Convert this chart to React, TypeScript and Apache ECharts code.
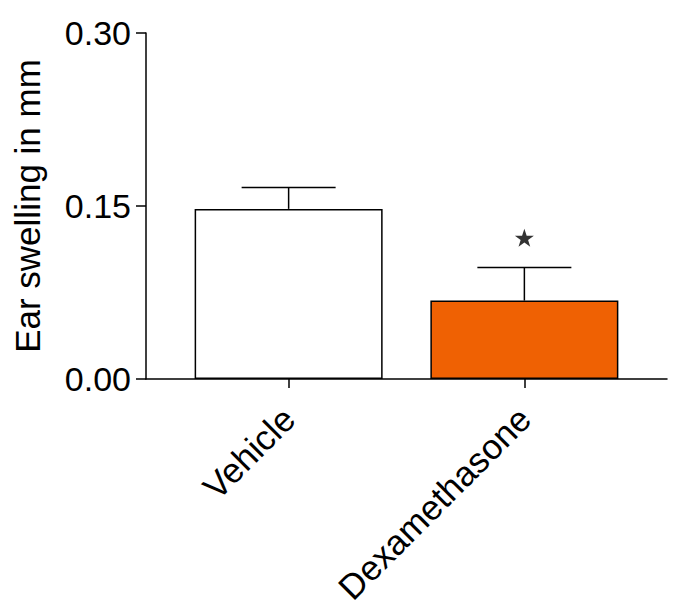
import React, { useEffect, useRef } from "react";
import * as echarts from "echarts";

const categories = ["Vehicle", "Dexamethasone"];
const means = [0.1475, 0.068];
const sems = [0.0185, 0.0286];
const starValues = [null, 0.1224];
const yTicks = [0, 0.15, 0.3];
const barColors = ["#ffffff", "#EF6103"];

const FONT = "Liberation Sans, Arial, sans-serif";

export default function App() {
  const ref = useRef<HTMLDivElement>(null);
  useEffect(() => {
    document.body.style.margin = "0";
    if (!ref.current) return;
    const chart = echarts.init(ref.current, null, { renderer: "svg" });
    const xIdx = categories.map((_, i) => i);
    chart.setOption({
      animation: false,
      backgroundColor: "#ffffff",
      grid: { left: 146, right: 7, top: 33, bottom: 237, containLabel: false },
      xAxis: {
        type: "value",
        min: -0.605,
        max: 1.605,
        splitLine: { show: false },
        axisLine: { show: true, onZero: false, lineStyle: { color: "#000", width: 1.5 } },
        axisTick: { show: true, customValues: xIdx, length: 9, lineStyle: { color: "#000", width: 1.5 } },
        axisLabel: {
          customValues: xIdx,
          rotate: 45,
          margin: 34,
          color: "#000",
          fontSize: 35,
          fontFamily: FONT,
          formatter: (v: number) => categories[Math.round(v)] ?? "",
        },
      },
      yAxis: {
        type: "value",
        min: yTicks[0],
        max: yTicks[yTicks.length - 1],
        interval: yTicks[1] - yTicks[0],
        name: "Ear swelling in mm",
        nameLocation: "middle",
        nameGap: 101,
        nameRotate: 90,
        nameTextStyle: { color: "#000", fontSize: 35, fontFamily: FONT },
        splitLine: { show: false },
        axisLine: { show: true, onZero: false, lineStyle: { color: "#000", width: 1.5 } },
        axisTick: { show: true, length: 10, lineStyle: { color: "#000", width: 1.5 } },
        axisLabel: {
          color: "#000",
          fontSize: 34,
          fontFamily: FONT,
          margin: 15,
          formatter: (v: number) => v.toFixed(2),
        },
      },
      series: [
        {
          type: "bar",
          barWidth: 188,
          data: means.map((m, i) => ({
            value: [i, m],
            itemStyle: { color: barColors[i], borderColor: "#000", borderWidth: 1.5 },
          })),
          z: 2,
        },
        {
          type: "custom",
          z: 3,
          data: means.map((m, i) => [i, m, m + sems[i]]),
          renderItem: (params: any, api: any) => {
            const x = api.value(0);
            const base = api.coord([x, api.value(1)]);
            const top = api.coord([x, api.value(2)]);
            const half = 47;
            return {
              type: "group",
              children: [
                {
                  type: "line",
                  shape: { x1: base[0], y1: base[1], x2: top[0], y2: top[1] },
                  style: { stroke: "#000", lineWidth: 1.5 },
                },
                {
                  type: "line",
                  shape: { x1: top[0] - half, y1: top[1], x2: top[0] + half, y2: top[1] },
                  style: { stroke: "#000", lineWidth: 1.5 },
                },
              ],
            };
          },
        },
        {
          type: "scatter",
          z: 4,
          symbol:
            "path://M12 0L14.9 8.4H24L16.7 13.6L19.4 22L12 16.8L4.6 22L7.3 13.6L0 8.4H9.1Z",
          symbolSize: [19, 18],
          itemStyle: { color: "#000" },
          data: starValues
            .map((v, i) => (v == null ? null : [i, v]))
            .filter((d) => d !== null),
        },
      ],
    });
    return () => chart.dispose();
  }, []);
  return <div ref={ref} style={{ width: 674, height: 616 }} />;
}
